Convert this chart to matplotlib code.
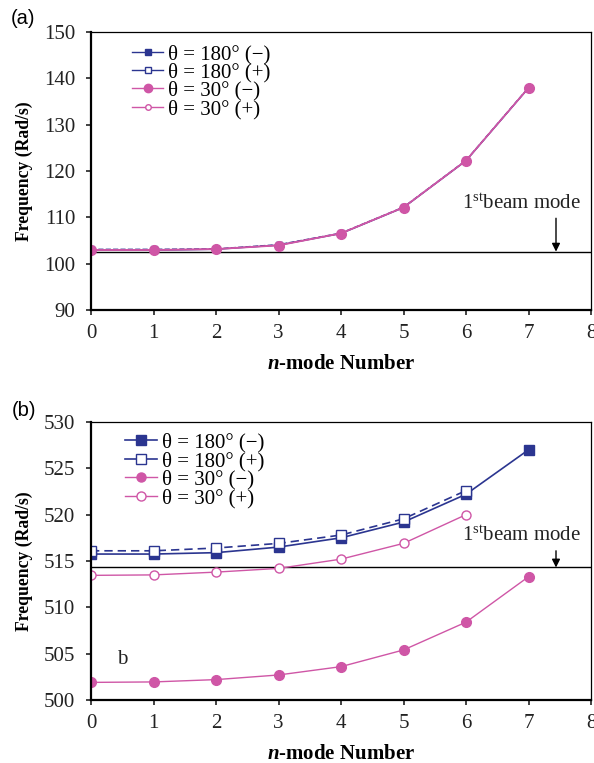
import matplotlib
matplotlib.use("Agg")
import matplotlib.pyplot as plt
from matplotlib.lines import Line2D

plt.rcParams["font.family"] = ["Liberation Serif", "DejaVu Serif"]
plt.rcParams["mathtext.fontset"] = "custom"
plt.rcParams["mathtext.rm"] = "Liberation Serif"
plt.rcParams["mathtext.it"] = "Liberation Serif:italic"
plt.rcParams["mathtext.bf"] = "Liberation Serif:bold"
plt.rcParams["mathtext.bfit"] = "Liberation Serif:bold:italic"

# ---- data ----
n_modes = [0, 1, 2, 3, 4, 5, 6, 7]

# panel (a)
a_180_minus = [102.9, 102.9, 103.1, 104.0, 106.5, 112.1, 122.2, 137.9]
a_180_plus = [103.1, 103.1, 103.2, 104.1, 106.6, 112.2, 122.3, 138.0]
a_30_minus = [102.9, 102.9, 103.1, 103.9, 106.5, 112.1, 122.2, 137.9]
a_30_plus = [103.0, 103.0, 103.2, 104.0, 106.6, 112.2, 122.3, 138.0]
a_beam = 102.6

# panel (b)
b_180_minus = [515.75, 515.75, 515.9, 516.5, 517.5, 519.2, 522.2, 527.0]
b_180_plus = [516.1, 516.1, 516.4, 516.9, 517.8, 519.55, 522.6]
b_30_minus = [501.9, 501.95, 502.2, 502.7, 503.6, 505.4, 508.4, 513.3]
b_30_plus = [513.45, 513.5, 513.8, 514.2, 515.2, 516.9, 520.0]
b_beam = 514.3

labels = ["θ = 180° (−)", "θ = 180° (+)", "θ = 30° (−)", "θ = 30° (+)"]
x_ticks = [0, 1, 2, 3, 4, 5, 6, 7, 8]

BLUE = "#2B3590"
PINK = "#CF56A6"
TXT = "#222222"
FS = 15

W, H = 594, 763
fig = plt.figure(figsize=(W / 100, H / 100), dpi=100)

def frac_axes(left, top, right, bottom):
    return fig.add_axes([left / W, 1 - bottom / H, (right - left) / W, (bottom - top) / H])

ax_a = frac_axes(91, 32, 591, 310)
ax_b = frac_axes(91, 422, 591, 700)

def style_axes(ax, ylim, yticks):
    ax.set_xlim(0, 8)
    ax.set_ylim(*ylim)
    ax.set_xticks(x_ticks)
    ax.set_yticks(yticks)
    ax.tick_params(direction="out", length=3.8, width=1.2, labelsize=FS,
                   colors=TXT, pad=6)
    ax.tick_params(axis="y", pad=7.5)
    for s in ("left", "bottom"):
        ax.spines[s].set_linewidth(1.6)
    for s in ("top", "right"):
        ax.spines[s].set_linewidth(0.9)
    ax.set_ylabel("Frequency (Rad/s)", fontsize=12.7, fontweight="bold", labelpad=8)
    ax.set_xlabel(r"$\mathbfit{n}$-mode Number", fontsize=15, fontweight="bold", labelpad=8)

def beam_label(ax, y_text, y_tail, y_head):
    ax.text(7.84, y_text, r"1$^{\mathrm{st}}$beam mode", fontsize=FS, ha="right",
            va="center", color=TXT)
    ax.annotate("", xy=(7.44, y_head), xytext=(7.44, y_tail),
                arrowprops=dict(arrowstyle="-|>", color="black", lw=1.0, mutation_scale=12,
                                shrinkA=0, shrinkB=0))

# ---- panel (a) ----
style_axes(ax_a, (90, 150), [90, 100, 110, 120, 130, 140, 150])
ax_a.axhline(a_beam, color="black", lw=1.0)
ax_a.plot(n_modes, a_180_minus, "-", color=BLUE, lw=1.0, marker="s", ms=5, mfc=BLUE, mec=BLUE)
ax_a.plot(n_modes, a_180_plus, "--", color=BLUE, lw=1.0, marker="s", ms=5, mfc="white", mec=BLUE)
ax_a.plot(n_modes, a_30_plus, "-", color=PINK, lw=1.0, marker="o", ms=5, mfc="white", mec=PINK)
ax_a.plot(n_modes, a_30_minus, "-", color=PINK, lw=1.0, marker="o", ms=7, mfc=PINK, mec=PINK)

beam_label(ax_a, 112.9, 109.8, a_beam)

handles_a = [
    Line2D([], [], color=BLUE, lw=1.0, marker="s", ms=5, mfc=BLUE, mec=BLUE),
    Line2D([], [], color=BLUE, lw=1.0, marker="s", ms=4.5, mfc="white", mec=BLUE),
    Line2D([], [], color=PINK, lw=1.0, marker="o", ms=6, mfc=PINK, mec=PINK),
    Line2D([], [], color=PINK, lw=1.0, marker="o", ms=4, mfc="white", mec=PINK),
]
ax_a.legend(handles_a, labels, loc="upper left", bbox_to_anchor=(0.082, 0.955),
            frameon=False, fontsize=FS, handlelength=1.5, handletextpad=0.25,
            labelspacing=-0.06, borderpad=0, borderaxespad=0)

fig.text(11 / W, 1 - 18 / H, "(a)", fontsize=14.5, family="Liberation Sans",
         va="center", ha="left")

# ---- panel (b) ----
style_axes(ax_b, (500, 530), [500, 505, 510, 515, 520, 525, 530])
ax_b.axhline(b_beam, color="black", lw=1.0)
ax_b.plot(n_modes, b_30_minus, "-", color=PINK, lw=1.0, marker="o", ms=7, mfc=PINK, mec=PINK)
ax_b.plot(n_modes[:len(b_30_plus)], b_30_plus, "-", color=PINK, lw=1.0, marker="o", ms=6.5,
          mfc="white", mec=PINK)
ax_b.plot(n_modes, b_180_minus, "-", color=BLUE, lw=1.2, marker="s", ms=7, mfc=BLUE, mec=BLUE)
ax_b.plot(n_modes[:len(b_180_plus)], b_180_plus, "--", color=BLUE, lw=1.2, marker="s", ms=7,
          mfc="white", mec=BLUE, dashes=(5, 3))

beam_label(ax_b, 517.65, 516.1, b_beam)
ax_b.text(0.5, 504.35, "b", fontsize=FS, ha="center", va="center", color=TXT)

handles_b = [
    Line2D([], [], color=BLUE, lw=1.2, marker="s", ms=7, mfc=BLUE, mec=BLUE),
    Line2D([], [], color=BLUE, lw=1.2, marker="s", ms=7, mfc="white", mec=BLUE),
    Line2D([], [], color=PINK, lw=1.0, marker="o", ms=6.5, mfc=PINK, mec=PINK),
    Line2D([], [], color=PINK, lw=1.0, marker="o", ms=6.5, mfc="white", mec=PINK),
]
ax_b.legend(handles_b, labels, loc="upper left", bbox_to_anchor=(0.068, 0.96),
            frameon=False, fontsize=FS, handlelength=1.55, handletextpad=0.25,
            labelspacing=-0.05, borderpad=0, borderaxespad=0)

fig.text(12 / W, 1 - 410 / H, "(b)", fontsize=14.5, family="Liberation Sans",
         va="center", ha="left")

fig.savefig("out.png", dpi=100)
